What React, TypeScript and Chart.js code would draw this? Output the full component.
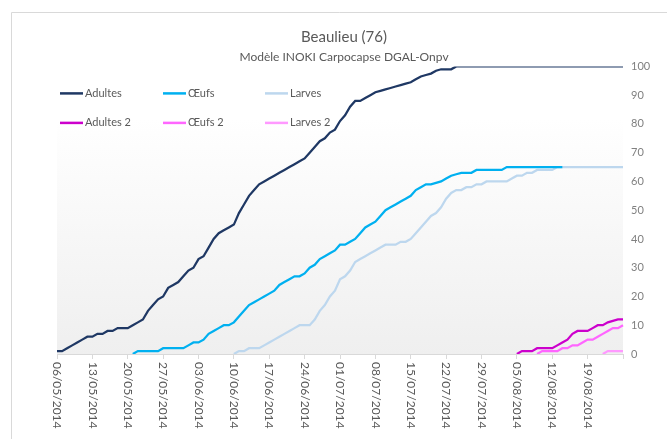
import React, { useEffect, useRef } from "react";
import { Chart, registerables } from "chart.js";

Chart.register(...registerables);

// ---- Data ----
const START_DATE = "2014-05-06";
const DAY_COUNT = 113; // 06/05/2014 .. 26/08/2014

function buildCategories(): string[] {
  const out: string[] = [];
  const base = new Date(START_DATE + "T00:00:00Z").getTime();
  for (let i = 0; i < DAY_COUNT; i++) {
    const d = new Date(base + i * 86400000);
    const dd = String(d.getUTCDate()).padStart(2, "0");
    const mm = String(d.getUTCMonth() + 1).padStart(2, "0");
    out.push(`${dd}/${mm}/${d.getUTCFullYear()}`);
  }
  return out;
}
const CATEGORIES = buildCategories();

const TICK_LABELS = [
  "06/05/2014", "13/05/2014", "20/05/2014", "27/05/2014", "03/06/2014",
  "10/06/2014", "17/06/2014", "24/06/2014", "01/07/2014", "08/07/2014",
  "15/07/2014", "22/07/2014", "29/07/2014", "05/08/2014", "12/08/2014",
  "19/08/2014",
];

const Y_TICKS = [0, 10, 20, 30, 40, 50, 60, 70, 80, 90, 100];

const blank = (n: number) => new Array(n).fill(null);

const ADULTES = [
  1, 1, 2, 3, 4, 5, 6, 6, 7, 7,
  8, 8, 9, 9, 9, 10, 11, 12, 15, 17,
  19, 20, 23, 24, 25, 27, 29, 30, 33, 34,
  37, 40, 42, 43, 44, 45, 49, 52, 55, 57,
  59, 60, 61, 62, 63, 64, 65, 66, 67, 68,
  70, 72, 74, 75, 77, 78, 81, 83, 86, 88,
  88, 89, 90, 91, 91.5, 92, 92.5, 93, 93.5, 94,
  94.5, 95.5, 96.5, 97, 97.5, 98.5, 99, 99, 99, 100,
  100, 100, 100, 100, 100, 100, 100, 100, 100, 100,
  100, 100, 100, 100, 100, 100, 100, 100, 100, 100,
  100, 100, 100, 100, 100, 100, 100, 100, 100, 100,
  100, 100, 100,
];

const OEUFS = [
  ...blank(15),
  0, 1, 1, 1, 1,
  1, 2, 2, 2, 2, 2, 3, 4, 4, 5,
  7, 8, 9, 10, 10, 11, 13, 15, 17, 18,
  19, 20, 21, 22, 24, 25, 26, 27, 27, 28,
  30, 31, 33, 34, 35, 36, 38, 38, 39, 40,
  42, 44, 45, 46, 48, 50, 51, 52, 53, 54,
  55, 57, 58, 59, 59, 59.5, 60, 61, 62, 62.5,
  63, 63, 63, 64, 64, 64, 64, 64, 64, 65,
  65, 65, 65, 65, 65, 65, 65, 65, 65, 65,
  65,
  ...blank(12),
];

const LARVES = [
  ...blank(35),
  0, 1, 1, 2, 2,
  2, 3, 4, 5, 6, 7, 8, 9, 10, 10,
  10, 12, 15, 17, 20, 22, 26, 27, 29, 32,
  33, 34, 35, 36, 37, 38, 38, 38, 39, 39,
  40, 42, 44, 46, 48, 49, 51, 54, 56, 57,
  57, 58, 58, 59, 59, 60, 60, 60, 60, 60,
  61, 62, 62, 63, 63, 64, 64, 64, 64, 65,
  65, 65, 65, 65, 65, 65, 65, 65, 65, 65,
  65, 65, 65,
];

const ADULTES_2 = [
  ...blank(91),
  0, 1, 1, 1, 2, 2, 2, 2, 3,
  4, 5, 7, 8, 8, 8, 9, 10, 10, 11,
  11.5, 12, 12,
];

const OEUFS_2 = [
  ...blank(95),
  0, 1, 1, 1, 1,
  2, 2, 3, 3, 4, 5, 5, 6, 7, 8,
  9, 9, 10,
];

const LARVES_2 = [
  ...blank(108),
  0, 1, 1, 1, 1,
];

const SERIES_NAMES = ["Adultes", "Œufs", "Larves", "Adultes 2", "Œufs 2", "Larves 2"];
const SERIES_COLORS = ["#1f3864", "#00b0f0", "#bdd7ee", "#cc00cc", "#ff66ff", "#ff99ff"];
const SERIES_DATA = [ADULTES, OEUFS, LARVES, ADULTES_2, OEUFS_2, LARVES_2];

const FONT = "Lato, 'Open Sans', sans-serif";

const backgroundPlugin = {
  id: "bgPlugin",
  beforeDraw(chart: any) {
    const { ctx, chartArea } = chart;
    const { left, top, right, bottom } = chartArea;
    ctx.save();
    ctx.strokeStyle = "#d9d9d9";
    ctx.lineWidth = 1;
    ctx.beginPath();
    ctx.moveTo(11.5, chart.height);
    ctx.lineTo(11.5, 12.5);
    ctx.lineTo(chart.width, 12.5);
    ctx.stroke();
    const g = ctx.createLinearGradient(0, top, 0, bottom);
    g.addColorStop(0, "#ffffff");
    g.addColorStop(0.18, "#ffffff");
    g.addColorStop(1, "#efefef");
    ctx.fillStyle = g;
    ctx.fillRect(left, top, right - left, bottom - top);
    ctx.restore();
  },
};

const xLabelsPlugin = {
  id: "xLabels",
  afterDraw(chart: any) {
    const { ctx } = chart;
    const xs = chart.scales.x;
    ctx.save();
    ctx.font = `12px ${FONT}`;
    ctx.fillStyle = "#595959";
    ctx.textAlign = "left";
    ctx.textBaseline = "middle";
    CATEGORIES.forEach((c, i) => {
      if (!TICK_LABELS.includes(c)) return;
      const x = xs.getPixelForValue(i);
      ctx.save();
      ctx.translate(x, xs.top + 8);
      ctx.rotate(Math.PI / 2);
      ctx.fillText(c, 0, 0);
      ctx.restore();
    });
    ctx.restore();
  },
};

const legendPlugin = {
  id: "customLegend",
  afterDatasetsDraw(chart: any) {
    const { ctx, chartArea } = chart;
    const colX = [3, 106, 208];
    const rowY = [27, 56.5];
    ctx.save();
    ctx.font = `11px ${FONT}`;
    ctx.textAlign = "left";
    ctx.textBaseline = "middle";
    chart.data.datasets.forEach((ds: any, i: number) => {
      const x = chartArea.left + colX[i % 3];
      const y = chartArea.top + rowY[Math.floor(i / 3)];
      ctx.strokeStyle = ds.borderColor;
      ctx.lineWidth = 2.5;
      ctx.beginPath();
      ctx.moveTo(x, y);
      ctx.lineTo(x + 23, y);
      ctx.stroke();
      ctx.fillStyle = "#595959";
      ctx.fillText(ds.label, x + 25, y);
    });
    ctx.restore();
  },
};

export default function App() {
  const ref = useRef<HTMLCanvasElement | null>(null);

  useEffect(() => {
    if (!ref.current) return;
    const chart = new Chart(ref.current, {
      type: "line",
      data: {
        labels: CATEGORIES,
        datasets: SERIES_DATA.map((d, i) => ({
          label: SERIES_NAMES[i],
          data: d,
          borderColor: SERIES_COLORS[i],
          backgroundColor: SERIES_COLORS[i],
          borderWidth: 2.25,
          pointRadius: 0,
          tension: 0,
          fill: false,
          yAxisID: "y",
        })),
      },
      options: {
        animation: false,
        responsive: false,
        events: [],
        layout: { padding: { left: 21, right: 0, top: 0, bottom: 0 } },
        plugins: {
          legend: { display: false },
          tooltip: { enabled: false },
          title: {
            display: true,
            text: "Beaulieu (76)",
            color: "#595959",
            font: { family: FONT, size: 15, weight: "normal" },
            padding: { top: 28, bottom: 4 },
          },
          subtitle: {
            display: true,
            text: "Modèle INOKI Carpocapse DGAL-Onpv",
            color: "#595959",
            font: { family: FONT, size: 12, weight: "normal" },
            padding: { top: 0, bottom: 2 },
          },
        },
        scales: {
          x: {
            type: "category",
            offset: false,
            ticks: { display: false, autoSkip: false },
            grid: {
              display: true,
              drawOnChartArea: false,
              drawTicks: true,
              tickLength: 5,
              color: (c: any) => (c.index % 7 === 0 ? "#d9d9d9" : "rgba(0,0,0,0)"),
            },
            border: { display: true, color: "#d9d9d9", width: 1 },
            afterFit: (s: any) => {
              s.height = 85;
            },
          },
          yLeft: {
            position: "left",
            display: true,
            ticks: { display: false },
            grid: { display: false },
            border: { display: false },
            afterFit: (s: any) => {
              s.width = 36;
            },
          },
          y: {
            position: "right",
            min: 0,
            max: 100,
            afterBuildTicks: (s: any) => {
              s.ticks = Y_TICKS.map((v) => ({ value: v }));
            },
            ticks: {
              color: "#808080",
              font: { family: FONT, size: 11 },
              padding: 8,
            },
            grid: { display: false, drawTicks: false },
            border: { display: false },
            afterFit: (s: any) => {
              s.width = 44;
            },
          },
        },
      } as any,
      plugins: [backgroundPlugin, xLabelsPlugin, legendPlugin],
    });
    return () => chart.destroy();
  }, []);

  return (
    <div style={{ position: "absolute", left: 0, top: 0, width: 667, height: 439, background: "#fff" }}>
      <canvas ref={ref} width={667} height={439} style={{ display: "block" }} />
    </div>
  );
}
